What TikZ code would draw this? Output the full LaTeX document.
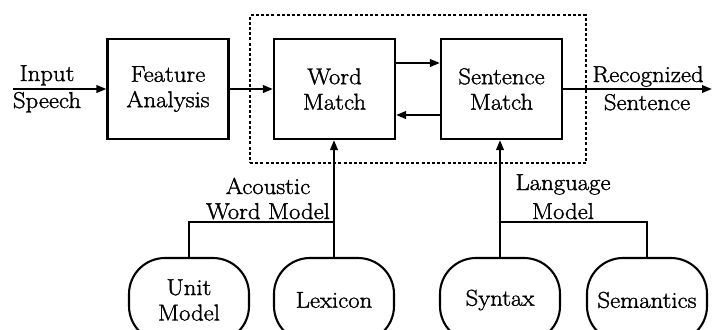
\documentclass[tikz,border=0pt]{standalone}
\usepackage{fontspec}
\setmainfont{Latin Modern Roman}[FakeBold=1.4,FakeStretch=1.08]
\usetikzlibrary{arrows.meta}
\begin{document}
\begin{tikzpicture}[x=1bp,y=-1bp,
  every node/.style={font=\fontsize{23}{25.5}\selectfont, inner sep=0pt},
  block/.style={draw, line width=2.1bp, minimum width=121bp, minimum height=100bp, align=center},
  store/.style={draw, line width=2.1bp, rounded corners=36bp, minimum width=120bp, minimum height=84bp, align=center},
  group/.style={draw, line width=1.8bp, dash pattern=on 3bp off 2.2bp, minimum width=336bp, minimum height=148bp},
  link/.style={line width=2.1bp},
  arr/.style={link, -{Triangle[length=10bp,width=7.5bp]}},
  lbl/.style={anchor=base}]
\useasboundingbox (0,0) rectangle (712,329);
\clip (0,0) rectangle (712,329);

% recognizer stages
\node[block] (fa) at (168,89) {Feature\\Analysis};
\node[block] (wm) at (334.5,89) {Word\\Match};
\node[block] (sm) at (501.5,89) {Sentence\\Match};
\node[group] (grp) at (418,89) {};

% knowledge sources
\node[store] (unit) at (189,300) {Unit\\Model};
\node[store] (lex) at (334,300) {Lexicon};
\node[store] (syn) at (500,300) {Syntax};
\node[store] (sem) at (647,300) {Semantics};

% main signal path
\coordinate (in) at (13,89);
\coordinate (out) at (712,89);
\draw[arr] (in) -- (fa.west);
\draw[arr] (fa.east) -- (wm.west);
\draw[arr] ([yshift=26bp]wm.east) -- ([yshift=26bp]sm.west);
\draw[arr] ([yshift=-26bp]sm.west) -- ([yshift=-26bp]wm.east);
\draw[arr] (sm.east) -- (out);

% models feeding the matchers
\coordinate (jw) at (334,222);
\coordinate (js) at (500,222);
\draw[arr] (lex.north) -- (lex.north |- wm.south);
\draw[link] (unit.north) |- (jw);
\draw[arr] (syn.north) -- (syn.north |- sm.south);
\draw[link] (sem.north) |- (js);

% labels
\node[lbl] (l1) at (47,81) {Input};
\node[lbl] (l2) at (47,108) {Speech};
\node[lbl] (l3) at (648,82) {Recognized};
\node[lbl] (l4) at (647,110) {Sentence};
\node[lbl] (l5) at (268,194) {Acoustic};
\node[lbl] (l6) at (268,219) {Word Model};
\node[lbl] (l7) at (563,190) {Language};
\node[lbl] (l8) at (563,219) {Model};
\end{tikzpicture}
\end{document}
